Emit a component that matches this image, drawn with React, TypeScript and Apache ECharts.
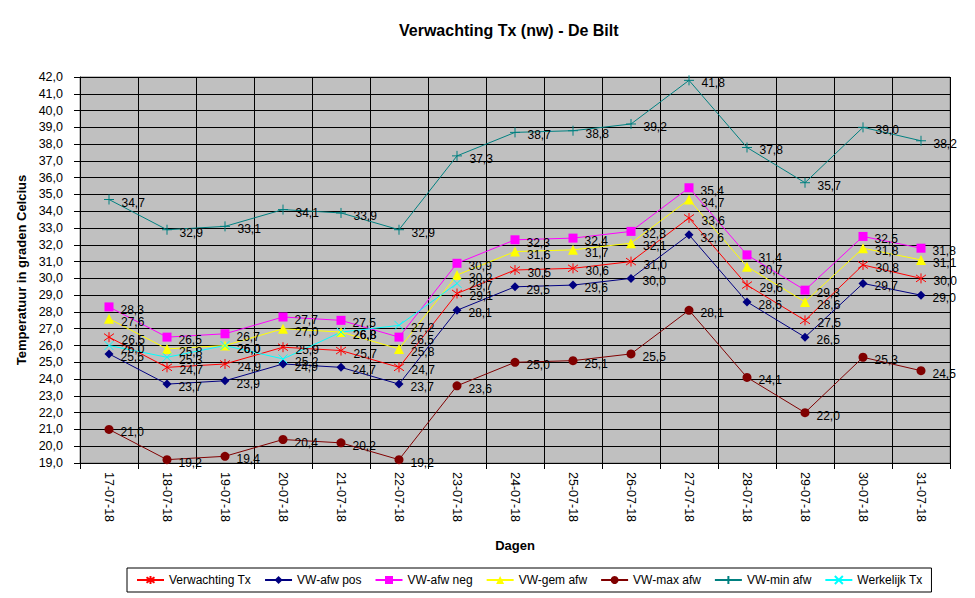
import React, { useEffect, useRef } from 'react';
import * as echarts from 'echarts';

const days = ['17-07-18', '18-07-18', '19-07-18', '20-07-18', '21-07-18', '22-07-18', '23-07-18', '24-07-18', '25-07-18', '26-07-18', '27-07-18', '28-07-18', '29-07-18', '30-07-18', '31-07-18'];
const verwachtingTx = [26.5, 24.7, 24.9, 25.9, 25.7, 24.7, 29.1, 30.5, 30.6, 31.0, 33.6, 29.6, 27.5, 30.8, 30.0];
const vwAfwPos = [25.5, 23.7, 23.9, 24.9, 24.7, 23.7, 28.1, 29.5, 29.6, 30.0, 32.6, 28.6, 26.5, 29.7, 29.0];
const vwAfwNeg = [28.3, 26.5, 26.7, 27.7, 27.5, 26.5, 30.9, 32.3, 32.4, 32.8, 35.4, 31.4, 29.3, 32.5, 31.8];
const vwGemAfw = [27.6, 25.8, 26.0, 27.0, 26.8, 25.8, 30.2, 31.6, 31.7, 32.1, 34.7, 30.7, 28.6, 31.8, 31.1];
const vwMaxAfw = [21.0, 19.2, 19.4, 20.4, 20.2, 19.2, 23.6, 25.0, 25.1, 25.5, 28.1, 24.1, 22.0, 25.3, 24.5];
const vwMinAfw = [34.7, 32.9, 33.1, 34.1, 33.9, 32.9, 37.3, 38.7, 38.8, 39.2, 41.8, 37.8, 35.7, 39.0, 38.2];
const werkelijkTx = [26.0, 25.3, 26.0, 25.2, 26.8, 27.2, 29.7, null, null, null, null, null, null, null, null];

const FONT = '"Liberation Sans", Arial, sans-serif';
const fmt = (v: number) => v.toFixed(1).replace('.', ',');

const STAR = 'path://M5,0L5,10M1.5,1.5L8.5,8.5M1.5,8.5L8.5,1.5';
const PLUS = 'path://M5,0L5,10M0,5L10,5';
const CROSS = 'path://M0,0L10,10M0,10L10,0';

function mk(name: string, data: (number | null)[], color: string, symbol: string, size: number, stroke = false) {
  return {
    name,
    type: 'line',
    data,
    symbol,
    symbolSize: size,
    showAllSymbol: true,
    connectNulls: false,
    lineStyle: { color, width: 1 },
    itemStyle: stroke ? { color, borderColor: color, borderWidth: 1 } : { color },
    label: {
      show: true,
      position: 'right',
      distance: 7,
      offset: [0, 3],
      color: '#000',
      fontFamily: FONT,
      fontSize: 12,
      formatter: (p: any) => (p.value == null ? '' : fmt(p.value)),
    },
    emphasis: { disabled: true },
  };
}

export default function App() {
  const ref = useRef<HTMLDivElement>(null);
  useEffect(() => {
    const chart = echarts.init(ref.current!, null, { renderer: 'svg' });
    chart.setOption({
      animation: false,
      backgroundColor: '#fff',
      textStyle: { fontFamily: FONT },
      title: {
        text: 'Verwachting Tx (nw) - De Bilt',
        left: 394,
        top: 17,
        textStyle: { fontFamily: FONT, fontSize: 16, fontWeight: 'bold', color: '#000' },
      },
      legend: {
        left: 127,
        bottom: 6,
        orient: 'horizontal',
        borderColor: '#000',
        borderWidth: 1,
        padding: [6, 9, 6, 9],
        itemWidth: 27,
        itemHeight: 10,
        itemGap: 13,
        textStyle: { fontFamily: FONT, fontSize: 12, color: '#000' },
        data: ['Verwachting Tx', 'VW-afw pos', 'VW-afw neg', 'VW-gem afw', 'VW-max afw', 'VW-min afw', 'Werkelijk Tx'],
      },
      grid: {
        left: 80,
        right: 25,
        top: 77,
        bottom: 135,
        show: true,
        backgroundColor: '#C0C0C0',
        borderColor: '#808080',
        borderWidth: 1,
      },
      xAxis: {
        type: 'category',
        data: days,
        boundaryGap: true,
        name: 'Dagen',
        nameLocation: 'middle',
        nameGap: 76,
        nameTextStyle: { fontFamily: FONT, fontSize: 13, fontWeight: 'bold', color: '#000' },
        axisLine: { lineStyle: { color: '#000', width: 1 } },
        axisTick: { show: true, interval: 0, length: 6, lineStyle: { color: '#000' } },
        axisLabel: { interval: 0, rotate: -90, margin: 9, fontFamily: FONT, fontSize: 12.5, color: '#000' },
        splitLine: { show: true, interval: 0, lineStyle: { color: '#000', width: 1 } },
      },
      yAxis: {
        type: 'value',
        min: 19,
        max: 42,
        interval: 1,
        name: 'Temperatuur in graden Celcius',
        nameLocation: 'middle',
        nameGap: 47,
        nameTextStyle: { fontFamily: FONT, fontSize: 13, fontWeight: 'bold', color: '#000' },
        axisLine: { show: true, lineStyle: { color: '#000', width: 1 } },
        axisTick: { show: true, length: 6, lineStyle: { color: '#000' } },
        axisLabel: { margin: 17, fontFamily: FONT, fontSize: 12.5, color: '#000', formatter: (v: number) => fmt(v) },
        splitLine: { show: true, lineStyle: { color: '#000', width: 1 } },
      },
      series: [
        mk('Verwachting Tx', verwachtingTx, '#FF0000', STAR, 10, true),
        mk('VW-afw pos', vwAfwPos, '#000080', 'diamond', 9),
        mk('VW-afw neg', vwAfwNeg, '#FF00FF', 'rect', 9),
        mk('VW-gem afw', vwGemAfw, '#FFFF00', 'triangle', 10),
        mk('VW-max afw', vwMaxAfw, '#800000', 'circle', 9),
        mk('VW-min afw', vwMinAfw, '#008080', PLUS, 10, true),
        mk('Werkelijk Tx', werkelijkTx, '#00FFFF', CROSS, 9, true),
      ],
    });
    return () => chart.dispose();
  }, []);
  return <div ref={ref} style={{ position: 'fixed', left: 0, top: 0, width: 975, height: 598 }} />;
}
